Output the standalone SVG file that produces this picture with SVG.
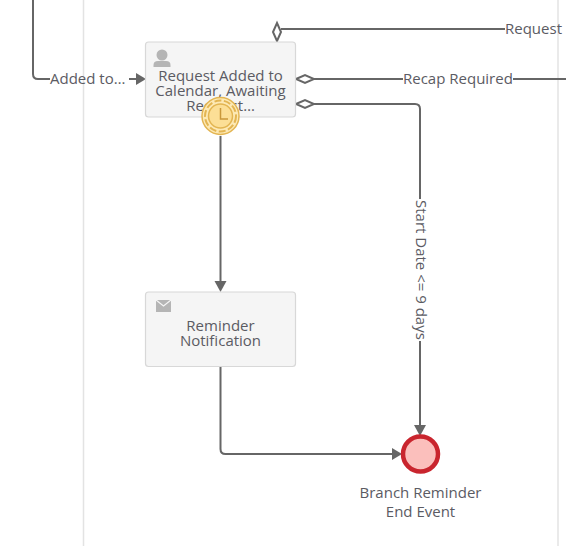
<svg xmlns="http://www.w3.org/2000/svg" width="566" height="546" viewBox="0 0 566 546">
<defs>
<style>
text{font-family:"Open Sans","Noto Sans",sans-serif;font-size:15px;fill:#5b5b63}
.c{text-anchor:middle}
.conn{fill:none;stroke:#666;stroke-width:2}
.lane{stroke:#e3e3e3;stroke-width:1.5;fill:none}
.box{fill:#f5f5f5;stroke:#d8d8d8;stroke-width:1.2}
.dia{fill:#fff;stroke:#666;stroke-width:2}
.head{fill:#666}
</style>
</defs>
<rect width="566" height="546" fill="#fff"/>
<g id="lanes">
<path class="lane" d="M83.500 0V546"/>
<path class="lane" d="M558 0V546"/>
</g>
<g id="connectors">
<path class="conn" d="M33 0V74Q33 79 38 79H50"/>
<path class="conn" d="M129 79H136"/>
<polygon class="head" points="136,73 146,79 136,85"/>
<path class="conn" d="M281 29H505"/>
<polygon class="dia" points="277,23 281,32 277,41 273,32"/>
<path class="conn" d="M314 79H403"/>
<path class="conn" d="M513 79H566"/>
<polygon class="dia" points="296,79 305,75 314,79 305,83"/>
<path class="conn" d="M314 104H415Q420 104 420 109V199"/>
<path class="conn" d="M420 341V425"/>
<polygon class="dia" points="296,104 305,100 314,104 305,108"/>
<polygon class="head" points="414,425 420,436 426,425"/>
<path class="conn" d="M220.500 136V281"/>
<polygon class="head" points="214.500,281 220.500,292 226.500,281"/>
<path class="conn" d="M220.500 367V449Q220.500 454 225.500 454H392"/>
<polygon class="head" points="392,448 402,454 392,460"/>
</g>
<g id="labels">
<text x="50" y="84">Added to…</text>
<text x="505" y="34">Request</text>
<text x="403" y="84">Recap Required</text>
<text transform="translate(416 200) rotate(90)">Start Date &lt;= 9 days</text>
</g>
<g id="task-request">
<rect class="box" x="145.500" y="42" width="150" height="75" rx="3"/>
<circle cx="162" cy="55" r="5.500" fill="#b5b5b5"/>
<path d="M153.500 67V65Q153.500 61 158 61H166Q170.500 61 170.500 65V67Z" fill="#b5b5b5"/>
<text class="c" x="220.500" y="81">Request Added to</text>
<text class="c" x="220.500" y="96">Calendar, Awaiting</text>
<text class="c" x="220.500" y="111">Request…</text>
</g>
<g id="timer">
<circle cx="220.500" cy="116" r="18.500" fill="#fde9b4" stroke="#e3b552" stroke-width="1.500"/>
<circle cx="220.500" cy="116" r="15.500" fill="none" stroke="#e3b552" stroke-width="2" stroke-dasharray="7 2.500"/>
<circle cx="220.500" cy="116" r="12" fill="#fcdf96" stroke="#e3b552" stroke-width="1.500"/>
<path d="M220.500 108V119H228" fill="none" stroke="#c9983a" stroke-width="1.500"/>
</g>
<g id="task-reminder">
<rect class="box" x="145.500" y="292" width="150" height="74.500" rx="3"/>
<rect x="156" y="300" width="15" height="12" fill="#b5b5b5"/>
<path d="M156 300L163.500 306L171 300" fill="none" stroke="#f5f5f5" stroke-width="1.200"/>
<text class="c" x="220.500" y="331">Reminder</text>
<text class="c" x="220.500" y="346">Notification</text>
</g>
<g id="end-event">
<circle cx="420.500" cy="454" r="17.500" fill="#fbbfbc" stroke="#c9252e" stroke-width="4.500"/>
<text class="c" x="420.500" y="498">Branch Reminder</text>
<text class="c" x="420.500" y="517">End Event</text>
</g>
</svg>
